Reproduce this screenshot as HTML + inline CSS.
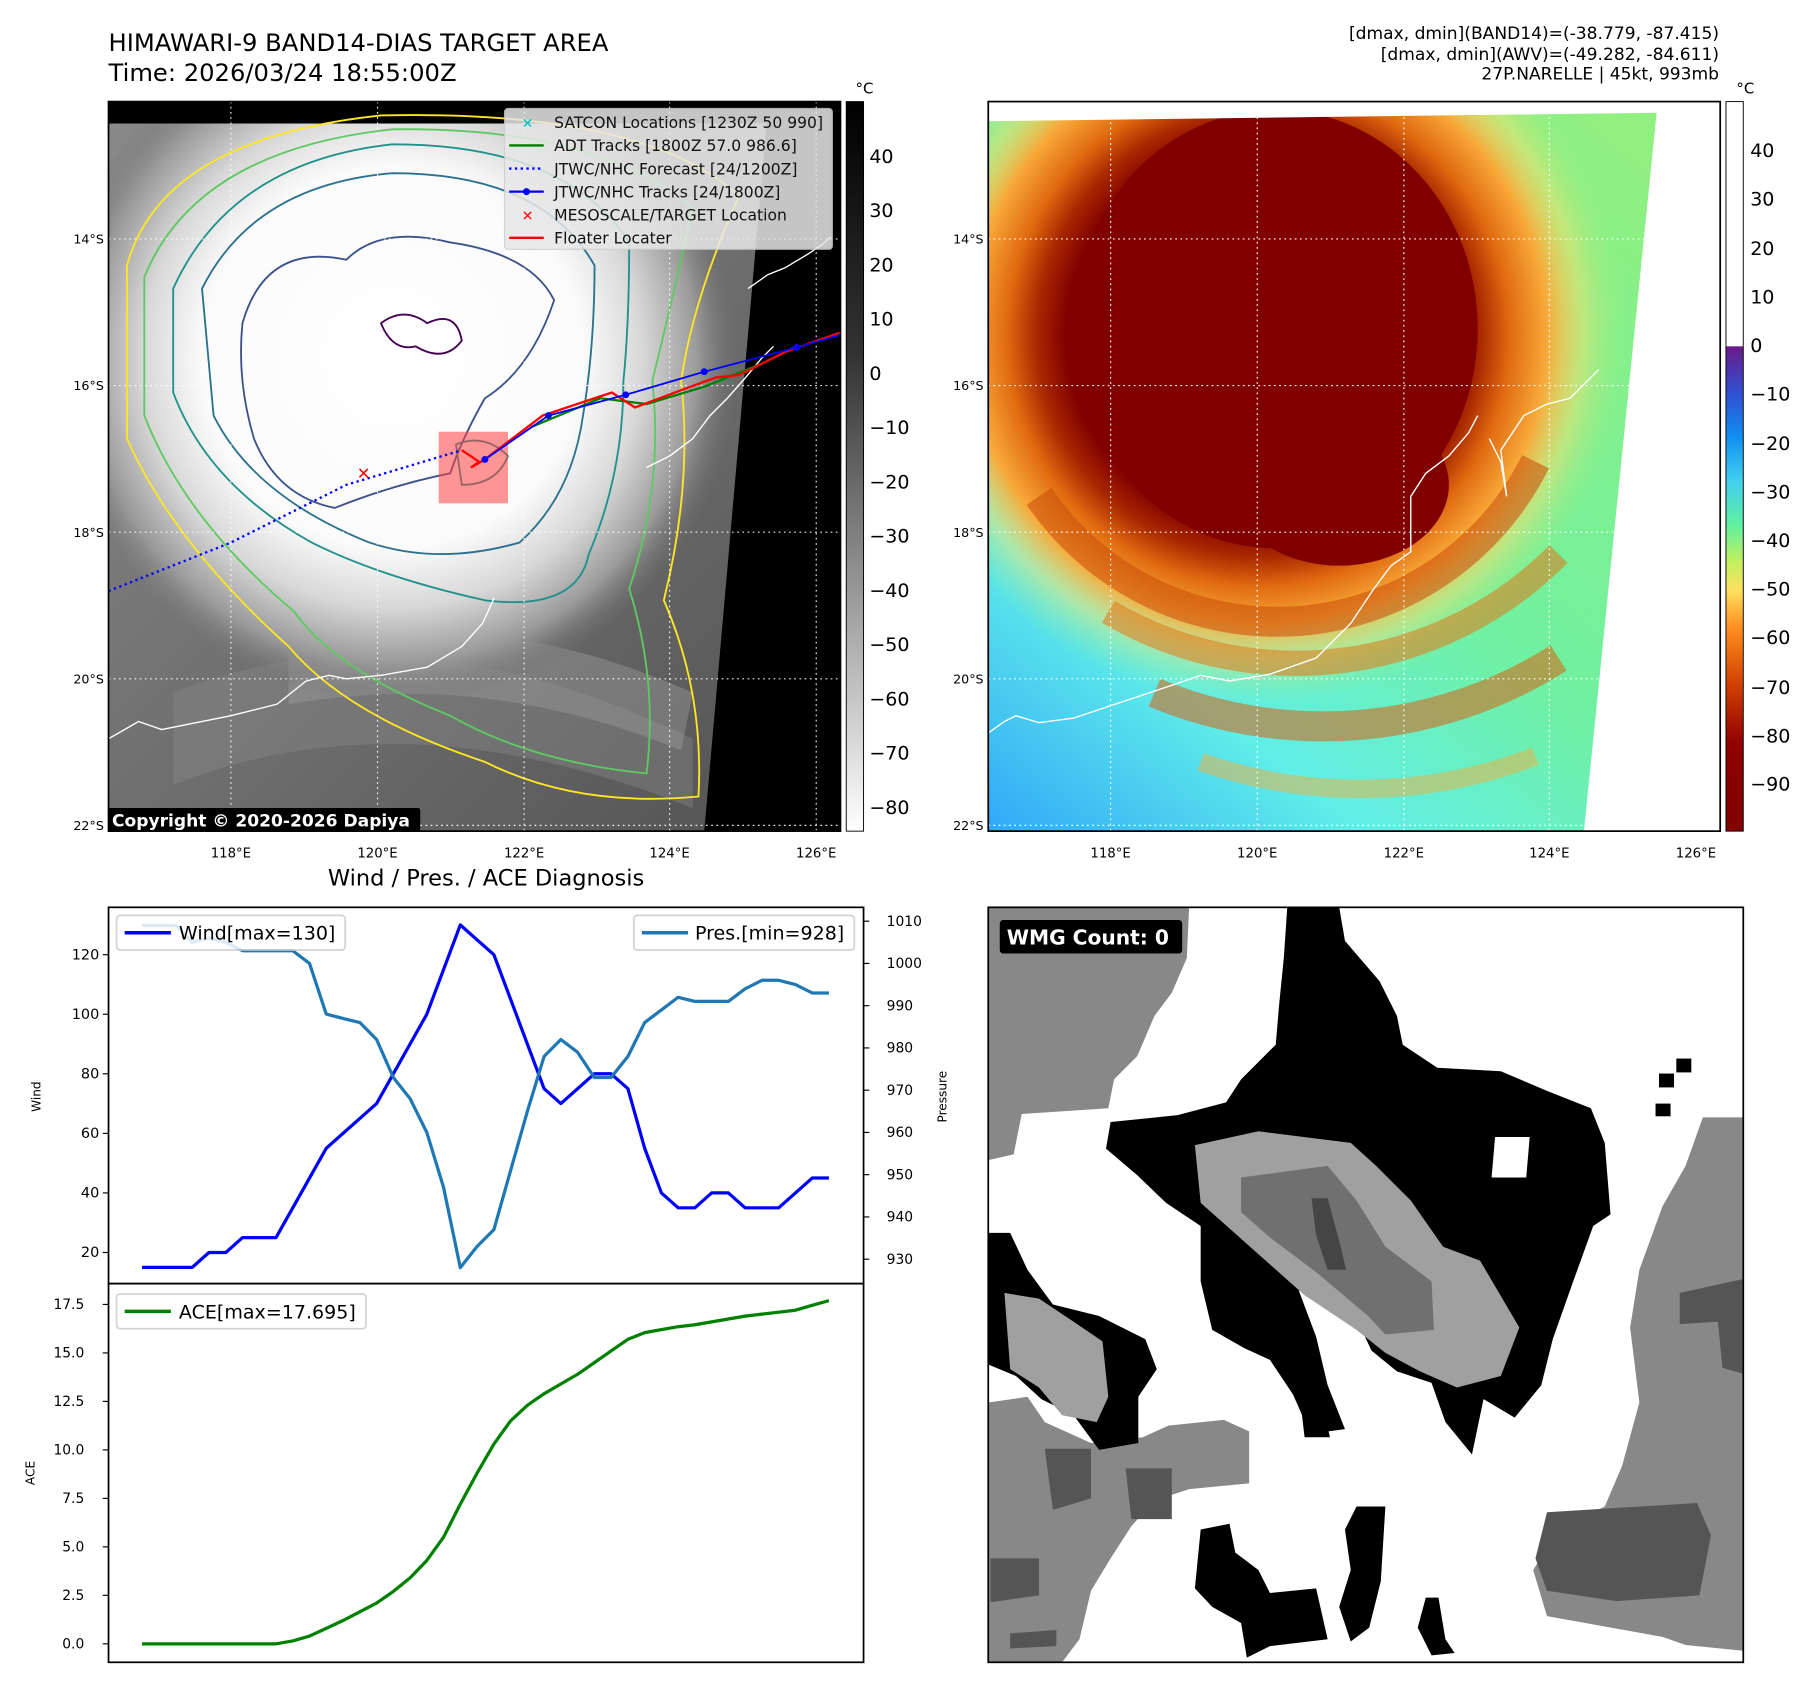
<!DOCTYPE html>
<html><head><meta charset="utf-8"><title>HIMAWARI-9 BAND14 Diagnosis</title>
<style>
html,body{margin:0;padding:0;background:#fff;}
svg{display:block;font-family:"DejaVu Sans","Liberation Sans",sans-serif;}
</style></head>
<body>
<svg id="fig" width="1801" height="1690" viewBox="0 0 1560 1464" preserveAspectRatio="none" xmlns="http://www.w3.org/2000/svg">
<defs>
  <radialGradient id="irWhite" cx="340" cy="310" r="300" gradientUnits="userSpaceOnUse">
    <stop offset="0" stop-color="#ffffff"/>
    <stop offset="0.55" stop-color="#fbfbfb"/>
    <stop offset="0.72" stop-color="#d8d8d8"/>
    <stop offset="0.88" stop-color="#9a9a9a"/>
    <stop offset="1" stop-color="#707070" stop-opacity="0"/>
  </radialGradient>
  <linearGradient id="irBase" x1="0" y1="0" x2="1" y2="1">
    <stop offset="0" stop-color="#8a8a8a"/>
    <stop offset="0.6" stop-color="#6a6a6a"/>
    <stop offset="1" stop-color="#505050"/>
  </linearGradient>
  <linearGradient id="cbGray" x1="0" y1="0" x2="0" y2="1">
    <stop offset="0" stop-color="#000"/>
    <stop offset="0.35" stop-color="#333"/>
    <stop offset="1" stop-color="#fff"/>
  </linearGradient>
  <linearGradient id="awvBase" x1="0" y1="1" x2="0.8" y2="0">
    <stop offset="0" stop-color="#30a8f8"/>
    <stop offset="0.25" stop-color="#60eee8"/>
    <stop offset="0.5" stop-color="#70f0a0"/>
    <stop offset="1" stop-color="#90f080"/>
  </linearGradient>
  <radialGradient id="awvCore" cx="1090" cy="290" r="320" gradientUnits="userSpaceOnUse">
    <stop offset="0" stop-color="#800000"/>
    <stop offset="0.52" stop-color="#800000"/>
    <stop offset="0.6" stop-color="#a82800"/>
    <stop offset="0.68" stop-color="#e06a10"/>
    <stop offset="0.78" stop-color="#f8a838"/>
    <stop offset="0.88" stop-color="#f8e070" stop-opacity="0.5"/>
    <stop offset="1" stop-color="#a0f080" stop-opacity="0"/>
  </radialGradient>
  <linearGradient id="cbAwv" x1="0" y1="0" x2="0" y2="1">
    <stop offset="0" stop-color="#ffffff"/>
    <stop offset="0.335" stop-color="#ffffff"/>
    <stop offset="0.336" stop-color="#6a1a8a"/>
    <stop offset="0.4" stop-color="#3050d0"/>
    <stop offset="0.46" stop-color="#1090f0"/>
    <stop offset="0.52" stop-color="#40d0f0"/>
    <stop offset="0.58" stop-color="#60f0a0"/>
    <stop offset="0.63" stop-color="#c0f060"/>
    <stop offset="0.67" stop-color="#ffe060"/>
    <stop offset="0.72" stop-color="#ff9020"/>
    <stop offset="0.8" stop-color="#d04000"/>
    <stop offset="0.88" stop-color="#900000"/>
    <stop offset="1" stop-color="#800000"/>
  </linearGradient>
  <clipPath id="clip1"><rect x="94" y="88" width="634" height="632"/></clipPath>
  <clipPath id="clip2"><rect x="856" y="88" width="634" height="632"/></clipPath>
  <clipPath id="clip3"><rect x="856" y="786" width="654" height="654"/></clipPath>
</defs>

<!-- ================= PANEL 1: IR ================= -->
<text x="94" y="44" font-size="21">HIMAWARI-9 BAND14-DIAS TARGET AREA</text>
<text x="94" y="70" font-size="21">Time: 2026/03/24 18:55:00Z</text>

<g clip-path="url(#clip1)">
  <rect x="94" y="88" width="634" height="632" fill="url(#irBase)"/>
  <path d="M150,600 Q350,520 600,640 L600,700 Q350,600 150,680 Z" fill="#8a8a8a" opacity="0.4"/>
  <path d="M250,560 Q420,520 600,600 L590,650 Q420,580 250,610 Z" fill="#a0a0a0" opacity="0.4"/>
  <rect x="94" y="88" width="634" height="632" fill="url(#irWhite)"/>
  <polygon points="94,88 728,88 728,107 94,107" fill="#000"/>
  <polygon points="664,107 728,107 728,720 610,720" fill="#000"/>
  <g fill="none" stroke-width="1.6">
    <path d="M110,230 Q140,120 330,100 Q560,95 640,170 Q600,260 590,330 Q600,420 575,520 Q610,600 605,690 Q500,700 420,660 Q300,620 250,560 Q150,470 110,380 Z" stroke="#fde725"/>
    <path d="M125,240 Q170,130 340,112 Q520,110 600,180 Q580,270 565,330 Q575,420 545,510 Q570,590 560,670 Q460,660 390,620 Q290,580 255,530 Q160,450 125,360 Z" stroke="#5ec962"/>
    <path d="M150,250 Q200,140 340,125 Q490,125 545,210 Q545,280 540,330 Q540,410 510,480 Q500,530 420,520 Q330,500 270,470 Q180,420 150,340 Z" stroke="#21918c"/>
    <path d="M175,250 Q220,160 340,150 Q470,150 515,230 Q515,300 505,360 Q495,430 450,470 Q380,490 320,470 Q220,430 185,360 Z" stroke="#2c728e"/>
    <path d="M210,280 Q230,210 300,225 Q330,195 390,210 Q460,220 480,260 Q460,320 420,345 Q400,380 390,410 Q340,420 290,440 Q240,430 220,380 Q205,330 210,280 Z" stroke="#3b528b"/>
    <path d="M330,280 Q350,265 370,280 Q395,268 400,295 Q385,315 360,300 Q340,305 330,280 Z" stroke="#440154"/>
    <path d="M395,385 Q420,375 440,395 Q430,420 400,420 Z" stroke="#21918c"/>
  </g>
  <g fill="none" stroke="#fff" stroke-width="1.2">
    <path d="M94,640 L120,625 L140,632 L160,628 L200,620 L240,610 L265,590 L285,585 L300,588 L330,585 L370,578 L400,560 L418,540 L428,518"/>
    <path d="M560,405 L580,395 L600,380 L615,360 L630,345 L645,328 L660,310 L670,300"/>
    <path d="M648,250 L665,238 L680,232 L700,220 L712,212 L720,205"/>
  </g>
  <g stroke="#fff" stroke-width="1" stroke-dasharray="1.5,3" opacity="0.9">
    <line x1="94" y1="207" x2="728" y2="207"/><line x1="94" y1="334" x2="728" y2="334"/>
    <line x1="94" y1="461" x2="728" y2="461"/><line x1="94" y1="588" x2="728" y2="588"/>
    <line x1="94" y1="715" x2="728" y2="715"/>
    <line x1="200" y1="88" x2="200" y2="720"/><line x1="327" y1="88" x2="327" y2="720"/>
    <line x1="454" y1="88" x2="454" y2="720"/><line x1="580" y1="88" x2="580" y2="720"/>
    <line x1="707" y1="88" x2="707" y2="720"/>
  </g>
  <rect x="380" y="374" width="60" height="62" fill="#ff4040" opacity="0.55"/>
  <polyline points="94,512 200,470 300,420 400,390" fill="none" stroke="#0000ff" stroke-width="2" stroke-dasharray="2,3"/>
  <polyline points="460,370 520,345 560,350 610,335 660,315 690,300" fill="none" stroke="#008000" stroke-width="2"/>
  <polyline points="400,390 415,400 408,405 420,398 470,360 515,345 530,340 550,353 590,338 620,327 640,325 680,305 728,288" fill="none" stroke="#ff0000" stroke-width="2"/>
  <polyline points="420,398 475,360 542,342 610,322 690,301 728,290" fill="none" stroke="#0000ff" stroke-width="1.6"/>
  <g fill="#0000ff"><circle cx="420" cy="398" r="3"/><circle cx="475" cy="360" r="3"/><circle cx="542" cy="342" r="3"/><circle cx="610" cy="322" r="3"/><circle cx="690" cy="301" r="3"/></g>
  <text x="315" y="415" font-size="14" font-weight="bold" fill="#ff0000" text-anchor="middle">✕</text>
  <g>
    <rect x="437" y="94" width="284" height="122" rx="3" fill="#e8e8e8" opacity="0.85" stroke="#ccc"/>
    <text x="457" y="111" font-size="12" fill="#00bfbf" text-anchor="middle" font-weight="bold">✕</text>
    <line x1="441" y1="126" x2="471" y2="126" stroke="#008000" stroke-width="2"/>
    <line x1="441" y1="146" x2="471" y2="146" stroke="#0000ff" stroke-width="2" stroke-dasharray="2,3"/>
    <line x1="441" y1="166" x2="471" y2="166" stroke="#0000ff" stroke-width="2"/><circle cx="456" cy="166" r="3" fill="#0000ff"/>
    <text x="457" y="191" font-size="12" fill="#ff0000" text-anchor="middle" font-weight="bold">✕</text>
    <line x1="441" y1="206" x2="471" y2="206" stroke="#ff0000" stroke-width="2"/>
    <g font-size="13.5" fill="#111">
      <text x="480" y="111">SATCON Locations [1230Z 50 990]</text>
      <text x="480" y="131">ADT Tracks [1800Z 57.0 986.6]</text>
      <text x="480" y="151">JTWC/NHC Forecast [24/1200Z]</text>
      <text x="480" y="171">JTWC/NHC Tracks [24/1800Z]</text>
      <text x="480" y="191">MESOSCALE/TARGET Location</text>
      <text x="480" y="211">Floater Locater</text>
    </g>
  </g>
  <rect x="94" y="700" width="270" height="20" rx="2" fill="#000"/>
  <text x="97" y="716" font-size="14.8" font-weight="bold" fill="#fff">Copyright © 2020-2026 Dapiya</text>
</g>
<rect x="94" y="88" width="634" height="632" fill="none" stroke="#000" stroke-width="1.5"/>
<g font-size="11" text-anchor="end">
  <text x="90" y="211">14°S</text><text x="90" y="338">16°S</text><text x="90" y="465">18°S</text><text x="90" y="592">20°S</text><text x="90" y="719">22°S</text>
</g>
<g font-size="11.5" text-anchor="middle">
  <text x="200" y="743">118°E</text><text x="327" y="743">120°E</text><text x="454" y="743">122°E</text><text x="580" y="743">124°E</text><text x="707" y="743">126°E</text>
</g>
<rect x="733" y="88" width="15" height="632" fill="url(#cbGray)" stroke="#000" stroke-width="0.8"/>
<text x="741" y="81" font-size="13">°C</text>
<g font-size="16.5">
  <text x="753" y="141">40</text><text x="753" y="188">30</text><text x="753" y="235">20</text><text x="753" y="282">10</text>
  <text x="753" y="329">0</text><text x="753" y="376">−10</text><text x="753" y="423">−20</text><text x="753" y="470">−30</text>
  <text x="753" y="517">−40</text><text x="753" y="564">−50</text><text x="753" y="611">−60</text><text x="753" y="658">−70</text><text x="753" y="705">−80</text>
</g>

<!-- ================= PANEL 2: AWV ================= -->
<g font-size="14.8" text-anchor="end">
  <text x="1489" y="34">[dmax, dmin](BAND14)=(-38.779, -87.415)</text>
  <text x="1489" y="52">[dmax, dmin](AWV)=(-49.282, -84.611)</text>
  <text x="1489" y="69">27P.NARELLE | 45kt, 993mb</text>
</g>
<g clip-path="url(#clip2)">
  <rect x="856" y="88" width="634" height="632" fill="url(#awvBase)"/>
  <rect x="856" y="88" width="634" height="632" fill="url(#awvCore)"/>
  <g fill="none" stroke-linecap="butt">
    <path d="M900,430 A250,250 0 0 0 1330,400" stroke="#c84a08" stroke-width="26" opacity="0.55"/>
    <path d="M960,530 A320,320 0 0 0 1350,480" stroke="#e07818" stroke-width="22" opacity="0.55"/>
    <path d="M1000,600 A380,380 0 0 0 1350,570" stroke="#d86010" stroke-width="26" opacity="0.55"/>
    <path d="M1040,660 A420,420 0 0 0 1330,655" stroke="#f0b040" stroke-width="16" opacity="0.5"/>
  </g>
  <ellipse cx="1105" cy="285" rx="175" ry="190" fill="#800000"/>
  <ellipse cx="1160" cy="420" rx="95" ry="70" fill="#800000"/>
  <polygon points="856,88 1490,88 1490,97 856,105" fill="#fff"/>
  <polygon points="1435,97 1490,97 1490,720 1372,720" fill="#fff"/>
  <g fill="none" stroke="#fff" stroke-width="1.2">
    <path d="M856,635 L870,625 L880,620 L900,626 L930,622 L960,612 L990,602 L1020,592 L1040,585 L1065,590 L1100,584 L1140,570 L1170,540 L1190,510 L1205,490 L1222,478 L1222,430 L1235,410 L1255,395 L1272,375 L1280,360"/>
    <path d="M1290,380 L1300,400 L1305,430 L1300,390 L1320,360 L1340,350 L1360,345 L1375,330 L1385,320"/>
  </g>
  <g stroke="#fff" stroke-width="1" stroke-dasharray="1.5,3">
    <line x1="856" y1="207" x2="1490" y2="207"/><line x1="856" y1="334" x2="1490" y2="334"/>
    <line x1="856" y1="461" x2="1490" y2="461"/><line x1="856" y1="588" x2="1490" y2="588"/>
    <line x1="856" y1="715" x2="1490" y2="715"/>
    <line x1="962" y1="88" x2="962" y2="720"/><line x1="1089" y1="88" x2="1089" y2="720"/>
    <line x1="1216" y1="88" x2="1216" y2="720"/><line x1="1342" y1="88" x2="1342" y2="720"/>
  </g>
</g>
<rect x="856" y="88" width="634" height="632" fill="none" stroke="#000" stroke-width="1.5"/>
<g font-size="11" text-anchor="end">
  <text x="852" y="211">14°S</text><text x="852" y="338">16°S</text><text x="852" y="465">18°S</text><text x="852" y="592">20°S</text><text x="852" y="719">22°S</text>
</g>
<g font-size="11.5" text-anchor="middle">
  <text x="962" y="743">118°E</text><text x="1089" y="743">120°E</text><text x="1216" y="743">122°E</text><text x="1342" y="743">124°E</text><text x="1469" y="743">126°E</text>
</g>
<rect x="1495" y="88" width="15" height="632" fill="url(#cbAwv)" stroke="#000" stroke-width="0.8"/>
<text x="1504" y="81" font-size="13">°C</text>
<g font-size="16.5">
  <text x="1516" y="136">40</text><text x="1516" y="178">30</text><text x="1516" y="221">20</text><text x="1516" y="263">10</text>
  <text x="1516" y="305">0</text><text x="1516" y="347">−10</text><text x="1516" y="390">−20</text><text x="1516" y="432">−30</text>
  <text x="1516" y="474">−40</text><text x="1516" y="516">−50</text><text x="1516" y="558">−60</text><text x="1516" y="601">−70</text>
  <text x="1516" y="643">−80</text><text x="1516" y="685">−90</text>
</g>

<!-- ================= PANEL 3: WIND/PRES/ACE ================= -->
<text x="421" y="767" font-size="19.5" text-anchor="middle">Wind / Pres. / ACE Diagnosis</text>
<rect x="94" y="786" width="654" height="326" fill="#fff" stroke="#000" stroke-width="1.5"/>
<rect x="94" y="1112" width="654" height="328" fill="#fff" stroke="#000" stroke-width="1.5"/>
<g id="wind-ticks"></g>
<g id="pres-ticks"></g>
<g id="ace-ticks"></g>
<text transform="translate(35,950) rotate(-90)" font-size="10.5" text-anchor="middle">Wind</text>
<text transform="translate(820,950) rotate(-90)" font-size="10.5" text-anchor="middle">Pressure</text>
<text transform="translate(30,1276) rotate(-90)" font-size="10.5" text-anchor="middle">ACE</text>
<g id="series"></g>
<g>
  <rect x="101" y="793" width="198" height="30" rx="3" fill="#fff" opacity="0.85" stroke="#ccc" stroke-width="1.5"/>
  <line x1="108" y1="808" x2="148" y2="808" stroke="#0000ff" stroke-width="3"/>
  <text x="155" y="814" font-size="16.5">Wind[max=130]</text>
</g>
<g>
  <rect x="549" y="793" width="191" height="30" rx="3" fill="#fff" opacity="0.85" stroke="#ccc" stroke-width="1.5"/>
  <line x1="556" y1="808" x2="596" y2="808" stroke="#1f77b4" stroke-width="3"/>
  <text x="602" y="814" font-size="16.5">Pres.[min=928]</text>
</g>
<g>
  <rect x="101" y="1121" width="216" height="30" rx="3" fill="#fff" opacity="0.85" stroke="#ccc" stroke-width="1.5"/>
  <line x1="108" y1="1136" x2="148" y2="1136" stroke="#008000" stroke-width="3"/>
  <text x="155" y="1142" font-size="16.5">ACE[max=17.695]</text>
</g>

<!-- ================= PANEL 4: WMG ================= -->
<g clip-path="url(#clip3)">
  <rect x="856" y="786" width="654" height="654" fill="#fff"/>
  <polygon fill="#888" points="856,786 1030,786 1028,830 1015,860 1000,880 985,915 965,935 960,960 885,965 878,1000 856,1005"/>
  <polygon fill="#888" points="1475,968 1510,968 1510,1430 1460,1425 1440,1418 1340,1400 1328,1360 1350,1325 1390,1305 1405,1270 1420,1215 1412,1150 1420,1100 1440,1045 1460,1010"/>
  <polygon fill="#555" points="1340,1310 1470,1302 1482,1330 1472,1382 1400,1387 1340,1378 1330,1350"/>
  <polygon fill="#555" points="1455,1120 1510,1108 1510,1190 1492,1185 1488,1145 1455,1147"/>
  <polygon fill="#888" points="856,1215 890,1210 905,1232 945,1250 990,1245 1012,1235 1060,1230 1082,1240 1082,1285 1030,1290 1000,1300 980,1322 962,1350 945,1378 935,1420 920,1440 856,1440"/>
  <polygon fill="#555" points="858,1350 900,1350 900,1382 858,1388"/>
  <polygon fill="#555" points="905,1255 945,1255 945,1298 912,1308"/>
  <polygon fill="#555" points="975,1272 1015,1272 1015,1316 980,1316"/>
  <polygon fill="#555" points="875,1415 915,1412 915,1426 875,1428"/>
  <polygon fill="#000" points="1115,786 1160,786 1165,815 1195,850 1210,880 1215,905 1245,925 1300,928 1340,945 1378,960 1390,990 1395,1052 1380,1062 1362,1112 1345,1160 1335,1200 1312,1228 1285,1212 1275,1260 1252,1232 1240,1198 1210,1188 1188,1170 1170,1132 1125,1118 1140,1158 1150,1200 1165,1238 1135,1242 1120,1208 1100,1178 1078,1168 1050,1152 1040,1110 1040,1062 1010,1042 985,1018 958,995 962,972 1020,966 1062,955 1075,935 1105,905 1108,870 1112,830"/>
  <polygon fill="#a0a0a0" points="1035,992 1090,980 1170,990 1192,1010 1222,1040 1250,1080 1282,1092 1316,1150 1300,1192 1262,1202 1230,1188 1200,1172 1175,1152 1130,1122 1085,1082 1040,1042"/>
  <polygon fill="#707070" points="1075,1020 1150,1010 1175,1040 1200,1080 1240,1110 1242,1152 1200,1156 1185,1140 1140,1102 1100,1072 1075,1050"/>
  <polygon fill="#454545" points="1136,1038 1150,1038 1160,1075 1166,1100 1150,1100 1140,1070"/>
  <polygon fill="#fff" points="1295,985 1325,985 1322,1020 1292,1020"/>
  <polygon fill="#000" points="856,1068 875,1068 890,1100 912,1130 952,1140 992,1160 1002,1186 986,1210 986,1250 952,1256 930,1226 902,1212 880,1192 856,1182"/>
  <polygon fill="#a0a0a0" points="870,1120 900,1125 930,1145 955,1162 960,1210 950,1232 920,1226 900,1202 875,1186"/>
  <polygon fill="#000" points="1040,1325 1065,1320 1070,1345 1090,1360 1100,1380 1140,1376 1150,1420 1100,1426 1080,1436 1075,1406 1050,1392 1035,1376"/>
  <polygon fill="#000" points="1175,1305 1200,1305 1196,1370 1186,1410 1170,1422 1160,1392 1170,1360 1165,1325"/>
  <polygon fill="#000" points="1235,1384 1246,1384 1252,1420 1260,1432 1240,1434 1228,1410"/>
  <polygon fill="#000" points="1124,1194 1140,1194 1152,1245 1130,1245"/>
  <rect x="1437" y="930" width="13" height="12" fill="#000"/>
  <rect x="1452" y="917" width="13" height="12" fill="#000"/>
  <rect x="1434" y="956" width="13" height="11" fill="#000"/>
  <rect x="866" y="797" width="158" height="29" rx="3" fill="#000"/>
  <text x="872" y="818" font-size="17.5" font-weight="bold" fill="#fff">WMG Count: 0</text>
</g>
<rect x="856" y="786" width="654" height="654" fill="none" stroke="#000" stroke-width="1.5"/>

<script>
// ---- chart data ----
var stepIndex = [0,1,2,3,4,5,6,7,8,9,10,11,12,13,14,15,16,17,18,19,20,21,22,23,24,25,26,27,28,29,30,31,32,33,34,35,36,37,38,39,40,41];
var windValues = [15,15,15,15,20,20,25,25,25,35,45,55,60,65,70,80,90,100,115,130,125,120,105,90,75,70,75,80,80,75,55,40,35,35,40,40,35,35,35,40,45,45];
var presValues = [1009,1009,1009,1005,1006,1005,1003,1003,1003,1003,1000,988,987,986,982,973,968,960,947,928,933,937,951,965,978,982,979,973,973,978,986,989,992,991,991,991,994,996,996,995,993,993];
var aceValues = [0,0,0,0,0,0,0,0,0,0.15,0.4,0.8,1.2,1.65,2.1,2.7,3.4,4.3,5.5,7.2,8.8,10.3,11.5,12.3,12.9,13.4,13.9,14.5,15.1,15.7,16.05,16.2,16.35,16.45,16.6,16.75,16.9,17.0,17.1,17.2,17.45,17.695];
var windTicks = [20,40,60,80,100,120];
var presTicks = [930,940,950,960,970,980,990,1000,1010];
var aceTicks = [0,2.5,5,7.5,10,12.5,15,17.5];
var aceTickLabels = ["0.0","2.5","5.0","7.5","10.0","12.5","15.0","17.5"];

var NS = "http://www.w3.org/2000/svg";
function xPos(i){ return 123 + i*(718-123)/(stepIndex.length-1); }
function yWind(v){ return 827 + (120-v)*51.6/20; }
function yPres(p){ return 798 + (1010-p)*3.66; }
function yAce(a){ return 1424 - a*16.8; }
function mk(tag, attrs, parent){
  var e = document.createElementNS(NS, tag);
  for (var k in attrs) e.setAttribute(k, attrs[k]);
  parent.appendChild(e); return e;
}
var wt = document.getElementById('wind-ticks');
windTicks.forEach(function(v){
  var y = yWind(v);
  var l = mk('line',{x1:89,y1:y,x2:94,y2:y,stroke:'#000'},wt);
  
  
  var t = mk('text',{x:86,y:y+4,'font-size':12.5,'text-anchor':'end'},wt);
  t.textContent = v;
  
  
});
var pt = document.getElementById('pres-ticks');
presTicks.forEach(function(v){
  var y = yPres(v);
  var l = mk('line',{x1:748,y1:y,x2:753,y2:y,stroke:'#000'},pt);
  
  
  var t = mk('text',{x:768,y:y+4,'font-size':12},pt);
  t.textContent = v;
  
  
});
var at = document.getElementById('ace-ticks');
aceTicks.forEach(function(v, k){
  var y = yAce(v);
  var l = mk('line',{x1:89,y1:y,x2:94,y2:y,stroke:'#000'},at);
  
  
  var t = mk('text',{x:73,y:y+4,'font-size':12,'text-anchor':'end'},at);
  t.textContent = aceTickLabels[k];
  
  
});
var sg = document.getElementById('series');
function linePts(vals, yf){ return vals.map(function(v,i){ return xPos(i).toFixed(1)+','+yf(v).toFixed(1); }).join(' '); }
var wl = mk('polyline',{points:linePts(windValues,yWind),fill:'none',stroke:'#0000ff','stroke-width':2.8,'stroke-linejoin':'round'},sg);


var pl = mk('polyline',{points:linePts(presValues,yPres),fill:'none',stroke:'#1f77b4','stroke-width':2.8,'stroke-linejoin':'round'},sg);


var al = mk('polyline',{points:linePts(aceValues,yAce),fill:'none',stroke:'#008000','stroke-width':2.8,'stroke-linejoin':'round'},sg);


</script>
</svg>
</body></html>
